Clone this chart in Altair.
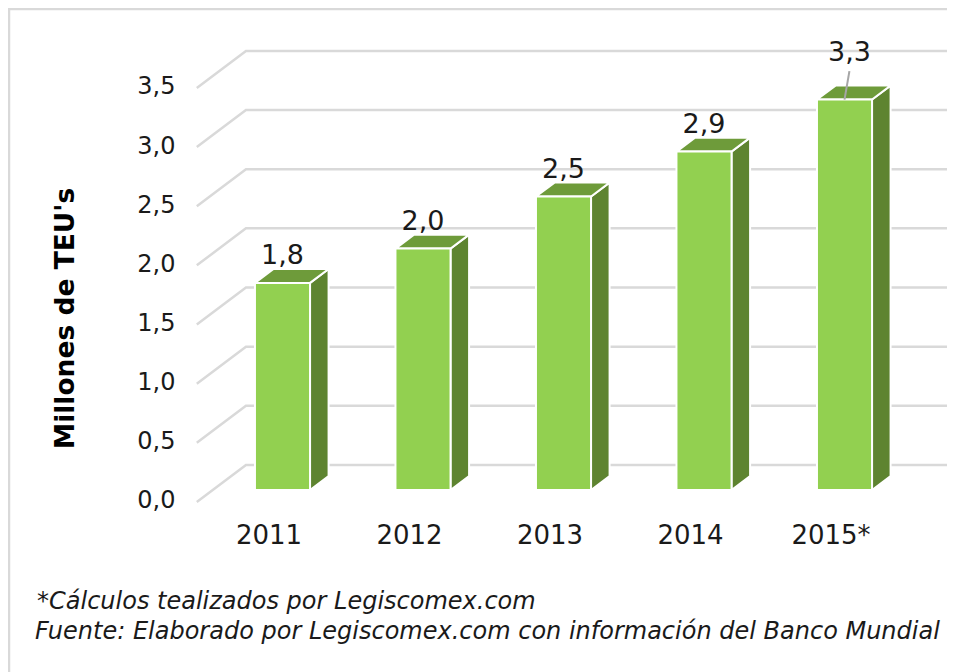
import altair as alt
import pandas as pd

years = [2011, 2012, 2013, 2014, 2015]
values = [1.75, 2.04, 2.48, 2.86, 3.30]
labels = ["1,8", "2,0", "2,5", "2,9", "3,3"]
ticks = [0.0, 0.5, 1.0, 1.5, 2.0, 2.5, 3.0, 3.5]
notes = ["*Cálculos tealizados por Legiscomex.com",
         "Fuente: Elaborado por Legiscomex.com con información del Banco Mundial"]

FONT = "DejaVu Sans"
W, H = 939, 664
BAR = 0.196      # half width of a bar, in years
DX, DY = 0.132, 0.118   # depth of a bar
GX0, GX1, GX2 = 2010.39, 2010.74, 2015.73   # floor corner and end of the gridlines
G0, G1 = -0.1014, 0.2113  # vertical shift of the gridlines at front and back

x_s = alt.Scale(domain=[2011 - 1.9537, 2011 + 4.7295], nice=False, zero=False)
y_s = alt.Scale(domain=[-1.539, 4.074], nice=False, zero=False)

grid = pd.DataFrame([
    {"t": t, "x": x, "y": t + s}
    for t in ticks for x, s in ((GX0, G0), (GX1, G1), (GX2, G1))
])
front = pd.DataFrame({"year": years, "v": values, "label": labels})
front["x0"] = front.year - BAR
front["x1"] = front.year + BAR
side = pd.DataFrame([
    r for yr, v in zip(years, values) for r in (
        {"year": yr, "x": yr + BAR, "y": v, "y2": 0.0},
        {"year": yr, "x": yr + BAR + DX, "y": v + DY, "y2": DY},
    )
])
top = pd.DataFrame([
    r for yr, v in zip(years, values) for r in (
        {"year": yr, "x": yr - BAR, "y": v, "y2": v},
        {"year": yr, "x": yr - BAR + DX, "y": v + DY, "y2": v},
        {"year": yr, "x": yr + BAR, "y": v + DY, "y2": v},
        {"year": yr, "x": yr + BAR + DX, "y": v + DY, "y2": v + DY},
    )
])

x_axis = alt.Axis(
    values=years, labelExpr="datum.value == 2015 ? '2015*' : '' + datum.value",
    grid=False, domain=False, ticks=False, offset=-150, labelPadding=0,
    labelOffset=-14, labelFont=FONT, labelFontSize=26, labelColor="#1a1a1a", labelBaseline="top",
    labelFlush=False, labelOverlap=False)
y_axis = alt.Axis(
    values=ticks, labelExpr="replace(format(datum.value, '.1f'), '.', ',')",
    grid=False, domain=False, ticks=False, offset=-167, labelPadding=0,
    labelOffset=11, labelFont=FONT, labelFontSize=24, labelColor="#1a1a1a",
    labelFlush=False, labelOverlap=False,
    titleFont=FONT, titleFontSize=26.5, titleFontWeight="bold", titleColor="#000000",
    titleX=-96, titleY=310, titleAlign="center", titleAngle=270)
Y_TITLE = "Millones de TEU's"


def X(field):
    return alt.X(field, scale=x_s, title=None, axis=x_axis)


def Y(field):
    return alt.Y(field, scale=y_s, title=Y_TITLE, axis=y_axis)


grid_l = alt.Chart(grid).mark_line(color="#d9d9d9", strokeWidth=2.5).encode(
    x=X("x:Q"), y=Y("y:Q"), detail="t:N", order="x:Q")

side_l = alt.Chart(side).mark_area(
    color="#5E8430", stroke="#ffffff", strokeWidth=2, orient="vertical").encode(
    x=X("x:Q"), y=Y("y:Q"), y2="y2:Q", detail="year:N")
top_l = alt.Chart(top).mark_area(
    color="#6E9B3A", stroke="#ffffff", strokeWidth=2, orient="vertical").encode(
    x=X("x:Q"), y=Y("y:Q"), y2="y2:Q", detail="year:N")
front_l = alt.Chart(front).transform_calculate(base="0").mark_bar(
    color="#92D050", stroke="#ffffff", strokeWidth=2).encode(
    x=X("x0:Q"), x2="x1:Q", y=Y("v:Q"), y2="base:Q")

leader = alt.Chart(pd.DataFrame({"x": [2015.0, 2015.035], "y": [3.30, 3.54]})).mark_line(
    color="#a6a6a6", strokeWidth=2).encode(x=X("x:Q"), y=Y("y:Q"))

text_common = dict(font=FONT, fontSize=27, color="#1a1a1a", baseline="middle", align="center")
lab_a = alt.Chart(front).transform_filter("datum.year < 2015").mark_text(
    yOffset=-27, **text_common).encode(x=X("year:Q"), y=Y("v:Q"), text="label:N")
lab_b = alt.Chart(front).transform_filter("datum.year == 2015").mark_text(
    yOffset=-47, xOffset=5, **text_common).encode(x=X("year:Q"), y=Y("v:Q"), text="label:N")

note1 = alt.Chart(pd.DataFrame({"n": [notes[0]]})).mark_text(
    font=FONT, fontSize=24, fontStyle="italic", color="#1a1a1a", align="left", baseline="middle"
).encode(x=alt.value(29), y=alt.value(594), text="n:N")
note2 = alt.Chart(pd.DataFrame({"n": [notes[1]]})).mark_text(
    font=FONT, fontSize=24, fontStyle="italic", color="#1a1a1a", align="left", baseline="middle"
).encode(x=alt.value(27), y=alt.value(624), text="n:N")

border_top = alt.Chart(pd.DataFrame({"a": [0]})).mark_rule(color="#d9d9d9", strokeWidth=2.5).encode(
    x=alt.value(0), x2=alt.value(W), y=alt.value(1))
border_left = alt.Chart(pd.DataFrame({"a": [0]})).mark_rule(color="#d9d9d9", strokeWidth=2.5).encode(
    x=alt.value(1), y=alt.value(0), y2=alt.value(H))

chart = alt.layer(grid_l, side_l, top_l, front_l, leader,
                  lab_a, lab_b, note1, note2, border_top, border_left).properties(
    width=W, height=H, padding=0, background="#ffffff",
    autosize=alt.AutoSizeParams(type="none"),
).configure_view(stroke=None)

chart.save("out.html", embed_options={"renderer": "svg", "actions": False})
